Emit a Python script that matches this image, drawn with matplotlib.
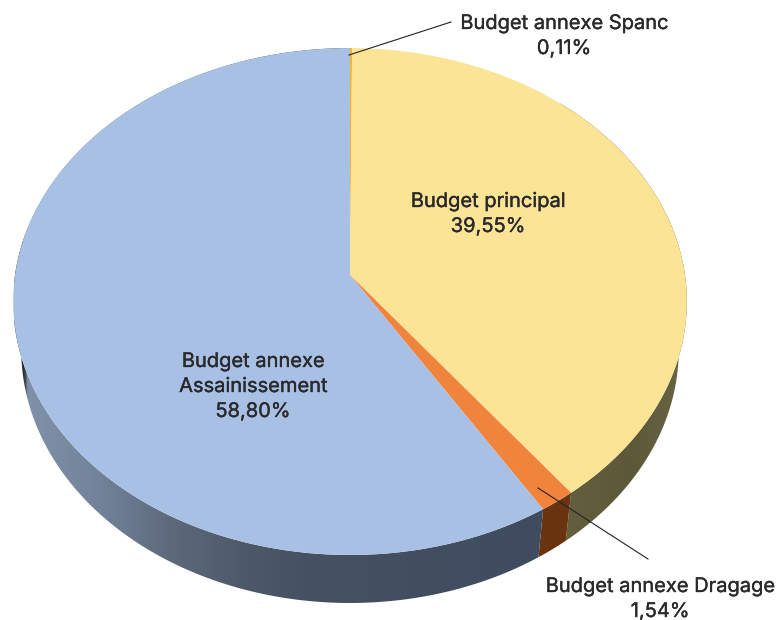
import numpy as np
import matplotlib
matplotlib.use("Agg")
import matplotlib.pyplot as plt
import matplotlib.patheffects as pe
from matplotlib.colors import LinearSegmentedColormap
from matplotlib.patches import Polygon
from matplotlib.transforms import Transform

categories = ["Budget annexe Spanc", "Budget principal", "Budget annexe Dragage", "Budget annexe\nAssainissement"]
values = [0.11, 39.55, 1.54, 58.80]
value_labels = ["0,11%", "39,55%", "1,54%", "58,80%"]
top_colors = ["#F6B322", "#FBE496", "#F1843C", "#A7C0E4"]

CX, CY, AX_, AY_, K = 350.0, 275.0, 335.0, 250.7, 0.1046


class Projective(Transform):
    """Unit pie plane -> picture pixels, with a perspective on the depth axis."""
    input_dims = output_dims = 2
    is_affine = False

    def __init__(self, sx=1.0, dy=0.0):
        super().__init__()
        self.sx, self.dy = sx, dy

    def transform_non_affine(self, v):
        v = np.asarray(v, float)
        w = 1 + K * v[:, 1]
        return np.column_stack([CX + self.sx * AX_ * v[:, 0] / w,
                                CY + self.dy - AY_ * v[:, 1] / w])


fig = plt.figure(figsize=(7.76, 6.2), dpi=100, facecolor="white")
ax = fig.add_axes([0, 0, 1, 1])

wedges, _ = ax.pie(values, colors=top_colors, startangle=90, counterclock=False,
                   wedgeprops=dict(linewidth=0))
top_tf = Projective()
low_tf = Projective(sx=0.976, dy=48)
for w in wedges:
    w.set_transform(top_tf + ax.transData)
    w.set_zorder(5)

side_stops = {
    1: [(0, "#64603F"), (0.55, "#5C5838"), (1, "#6A6646")],
    2: [(0, "#6A3410"), (1, "#6A3410")],
    3: [(0, "#1E2024"), (0.018, "#2A2D33"), (0.024, "#7F92AA"), (0.16, "#71839A"), (0.29, "#5E6A7C"),
        (0.44, "#4D5868"), (0.54, "#465161"), (1, "#3F4C60")],
}
side_range = {1: (560, 690), 2: (530, 575), 3: (14, 545)}

for i, w in enumerate(wedges):
    if i == 0:
        continue
    t = np.radians(np.linspace(w.theta1, w.theta2, 200))
    unit = np.column_stack([np.cos(t), np.sin(t)])
    upper = top_tf.transform(unit)
    lower = low_tf.transform(unit)
    poly = Polygon(np.vstack([upper, lower[::-1]]), closed=True, transform=ax.transData,
                   facecolor="none", edgecolor="none")
    ax.add_patch(poly)
    cmap = LinearSegmentedColormap.from_list(f"side{i}", side_stops[i])
    x0, x1 = side_range[i]
    im = ax.imshow(np.linspace(0, 1, 256)[None, :], cmap=cmap, aspect="auto",
                   extent=(x0, x1, 620, 0), zorder=2, interpolation="bilinear")
    im.set_clip_path(poly)

text_kw = dict(family="Inter", fontsize=14.45, color="#2A292B", ha="center", va="center",
               linespacing=1.5, zorder=10,
               path_effects=[pe.withStroke(linewidth=0.25, foreground="#2A292B")])
label_pos = [(564, 36.5), (488, 214.5), (660, 599.5), (253, 387)]
for name, val, (x, y) in zip(categories, value_labels, label_pos):
    ax.text(x, y, f"{name}\n{val}", **text_kw)

ax.plot([451, 349], [22, 55], color="#222222", lw=0.8, zorder=8)
ax.plot([538, 648], [488, 559], color="#222222", lw=0.8, zorder=8)

ax.set_aspect("auto")
ax.set_xlim(0, 776)
ax.set_ylim(620, 0)
ax.axis("off")
fig.savefig("out.png", dpi=100)
